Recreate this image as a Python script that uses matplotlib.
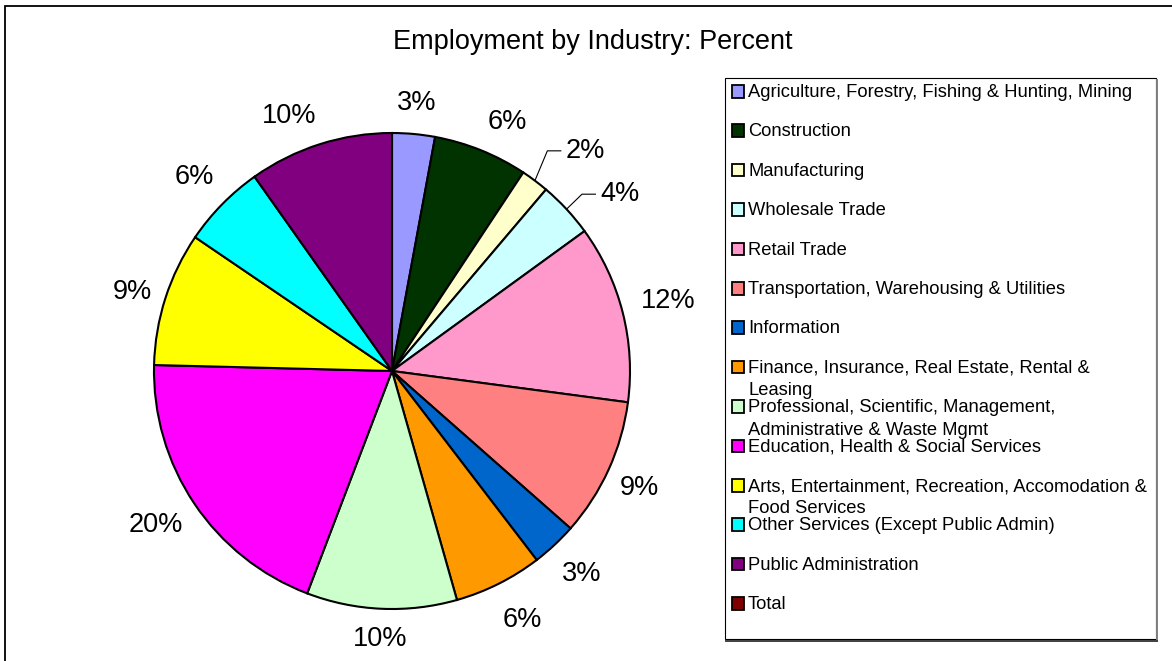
import matplotlib
matplotlib.use("Agg")
import matplotlib.pyplot as plt
import numpy as np
from matplotlib.patches import Rectangle

# ---------------- data ----------------
title = "Employment by Industry: Percent"
categories = [
    "Agriculture, Forestry, Fishing & Hunting, Mining",
    "Construction",
    "Manufacturing",
    "Wholesale Trade",
    "Retail Trade",
    "Transportation, Warehousing & Utilities",
    "Information",
    "Finance, Insurance, Real Estate, Rental &\nLeasing",
    "Professional, Scientific, Management,\nAdministrative & Waste Mgmt",
    "Education, Health & Social Services",
    "Arts, Entertainment, Recreation, Accomodation &\nFood Services",
    "Other Services (Except Public Admin)",
    "Public Administration",
    "Total",
]
values = [2.9, 6.4, 1.9, 3.8, 12.1, 9.4, 3.1, 6.0, 10.2, 19.6, 9.1, 5.7, 9.8, 0.0]
colors = ["#9999FF", "#003300", "#FFFFCC", "#CCFFFF", "#FF99CC", "#FF8080",
          "#0066CC", "#FF9900", "#CCFFCC", "#FF00FF", "#FFFF00", "#00FFFF",
          "#800080", "#800000"]

# ---------------- layout ----------------
W, H = 1172, 661
plt.rcParams["font.family"] = ["Liberation Sans", "DejaVu Sans"]
fig = plt.figure(figsize=(W / 100, H / 100), dpi=100)
ax = fig.add_axes([0, 0, 1, 1])

cx, cy, R = 392, H - 371, 238
pie_idx = [i for i, v in enumerate(values) if v > 0]
pie_vals = [values[i] for i in pie_idx]
pie_cols = [colors[i] for i in pie_idx]

wedges, _ = ax.pie(pie_vals, colors=pie_cols, startangle=90, counterclock=False,
                   radius=R, center=(cx, cy),
                   wedgeprops=dict(edgecolor="black", linewidth=1.5))
ax.set_xlim(0, W)
ax.set_ylim(0, H)
ax.set_aspect("equal")
ax.axis("off")

# outer chart frame
ax.add_patch(Rectangle((4.5, -10), W + 10, H - 5.5 + 10, fill=False,
                       edgecolor="black", linewidth=1.3, clip_on=False))

fig.text(593 / W, (H - 42) / H, title, ha="center", va="center", fontsize=19.5)

# ---------------- data labels ----------------
label_fs = 19.5
fs_px = label_fs * 100 / 72
r0 = R + 17
# per-label position nudges (screen px, x right / y up)
label_nudge = {1: (13, -5), 2: (27, -1), 3: (24, -12), 5: (-6, -2), 7: (7, -3),
               9: (0, 4), 10: (4, -6), 12: (-20, -7)}
leader = {2, 3}   # slices with leader lines
renderer = fig.canvas.get_renderer()
for k, (w, v) in enumerate(zip(wedges, pie_vals)):
    th = np.deg2rad((w.theta1 + w.theta2) / 2)
    dx, dy = np.cos(th), np.sin(th)
    t = ax.text(0, 0, f"{v:.0f}%", fontsize=label_fs, ha="center", va="center")
    bb = t.get_window_extent(renderer)
    hw = bb.width / 2
    hh = 0.45 * fs_px
    dist = r0 + abs(dx) * hw + abs(dy) * hh
    lx, ly = cx + dist * dx, cy + dist * dy
    if k in label_nudge:
        nx, ny = label_nudge[k]
        lx, ly = lx + nx, ly + ny
    if k in leader:
        ex, ey = cx + R * dx, cy + R * dy
        left = lx - hw
        ax.plot([ex, left - 18, left - 4], [ey, ly, ly], color="black",
                linewidth=0.8, solid_capstyle="butt")
    t.set_position((lx, ly))

# ---------------- legend ----------------
lx0, ltop, lx1, lbot = 724, 78, 1155, 639
ax.add_patch(Rectangle((lx0 + 0.5, H - lbot), lx1 - lx0, lbot - ltop,
                       facecolor="white", edgecolor="black", linewidth=0.8, zorder=3))
ax.plot([lx1 + 1.5, lx1 + 1.5], [H - ltop - 2, H - lbot - 1.5], color="#808080",
        linewidth=1.4, zorder=3)
ax.plot([lx0 + 2, lx1 + 2.2], [H - lbot - 1.5, H - lbot - 1.5], color="#404040",
        linewidth=1.4, zorder=3)

leg_fs = 13.2
step = 39.4
for i, (name, col) in enumerate(zip(categories, colors)):
    sy = 91 + i * step
    ax.add_patch(Rectangle((731.5, H - sy - 6.5), 12.5, 12.5, facecolor=col,
                           edgecolor="black", linewidth=1.3, zorder=4))
    ax.text(748, H - sy + 7.0, name, fontsize=leg_fs, ha="left", va="top",
            linespacing=1.42, zorder=4)

fig.savefig("out.png", dpi=100)
